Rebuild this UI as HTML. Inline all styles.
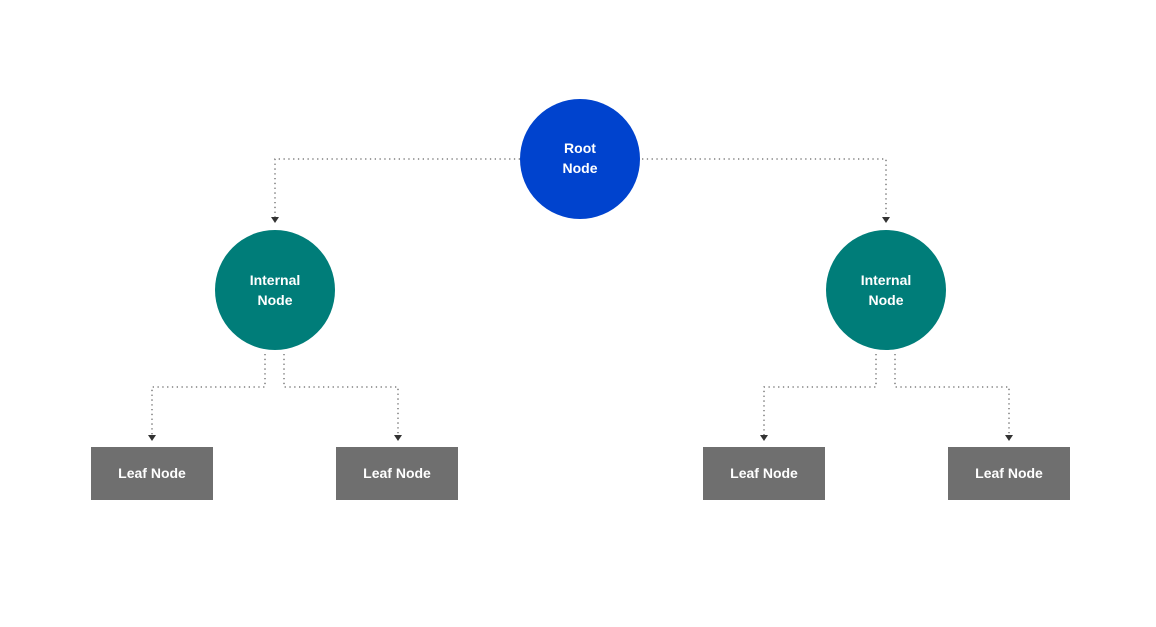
<!DOCTYPE html>
<html><head><style>
html,body{margin:0;padding:0;background:#fff;}
svg text{font-family:"Liberation Sans",sans-serif;font-weight:bold;fill:#fff;font-size:14px;text-anchor:middle;}
</style></head><body>
<svg width="1156" height="622" viewBox="0 0 1156 622" xmlns="http://www.w3.org/2000/svg">
<defs><marker id="a" markerWidth="8" markerHeight="8" refX="4" refY="4" orient="auto" markerUnits="userSpaceOnUse"><path d="M0,1 L8,1 L4,7 Z" fill="#333" transform="rotate(-90 4 4)"/></marker></defs>
<g fill="none" stroke="#666" stroke-width="1.3" stroke-dasharray="1.3 3.5">
<path d="M520 159 H275 V220" marker-end="url(#a)"/>
<path d="M642 159 H886 V220" marker-end="url(#a)"/>
<path d="M265 354 V387 H152 V438" marker-end="url(#a)"/>
<path d="M284 354 V387 H398 V438" marker-end="url(#a)"/>
<path d="M876 354 V387 H764 V438" marker-end="url(#a)"/>
<path d="M895 354 V387 H1009 V438" marker-end="url(#a)"/>
</g>
<circle cx="580" cy="159" r="60" fill="#0043ce"/>
<circle cx="275" cy="290" r="60" fill="#007d79"/>
<circle cx="886" cy="290" r="60" fill="#007d79"/>
<rect x="91" y="447" width="122" height="53" fill="#6f6f6f"/>
<rect x="336" y="447" width="122" height="53" fill="#6f6f6f"/>
<rect x="703" y="447" width="122" height="53" fill="#6f6f6f"/>
<rect x="948" y="447" width="122" height="53" fill="#6f6f6f"/>
<text x="580" y="153">Root</text><text x="580" y="173">Node</text>
<text x="275" y="285">Internal</text><text x="275" y="305">Node</text>
<text x="886" y="285">Internal</text><text x="886" y="305">Node</text>
<text x="152" y="478">Leaf Node</text>
<text x="397" y="478">Leaf Node</text>
<text x="764" y="478">Leaf Node</text>
<text x="1009" y="478">Leaf Node</text>
</svg>
</body></html>
